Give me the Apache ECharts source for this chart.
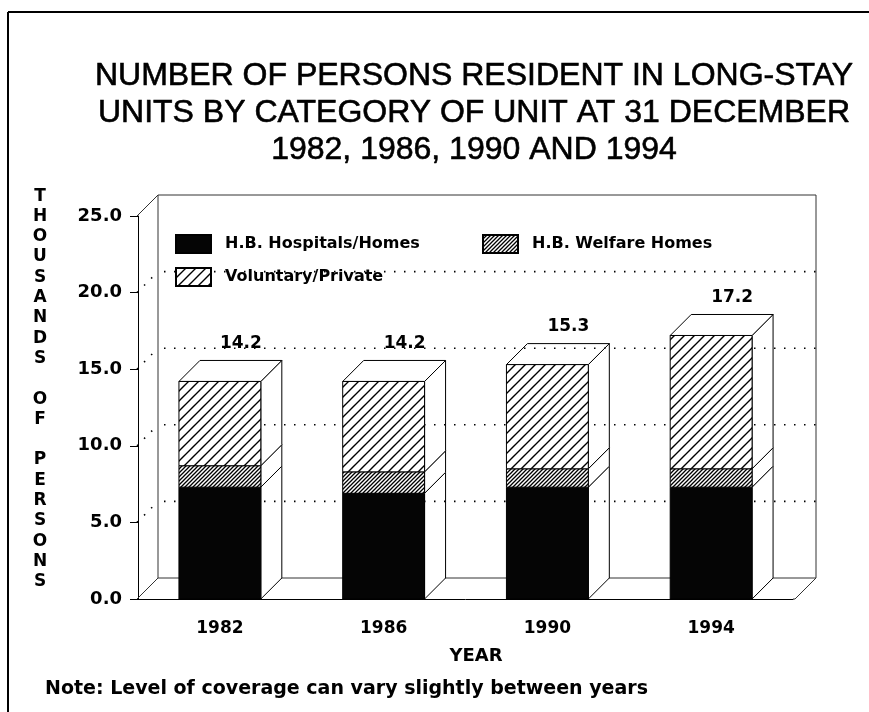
<!DOCTYPE html>
<html><head><meta charset="utf-8">
<script src="https://cdn.jsdelivr.net/npm/echarts@6/dist/echarts.min.js"></script>
<style>html,body{margin:0;padding:0;background:#fff}#c{width:869px;height:712px}</style>
</head><body><div id="c"></div>
<script>
const years = ['1982', '1986', '1990', '1994'];
const hospitals = [7.3, 6.9, 7.3, 7.3];
const welfare = [1.4, 1.4, 1.2, 1.2];
const voluntary = [5.5, 5.9, 6.8, 8.7];
const totalLabels = ['14.2', '14.2', '15.3', '17.2'];
const gridLevels = [5, 10, 15, 20];
const seriesNames = ['H.B. Hospitals/Homes', 'H.B. Welfare Homes', 'Voluntary/Private'];
const titleLines = ['NUMBER OF PERSONS RESIDENT IN LONG-STAY', 'UNITS BY CATEGORY OF UNIT AT 31 DECEMBER', '1982, 1986, 1990 AND 1994'];
const yTitle = 'THOUSANDS OF PERSONS';
const xTitle = 'YEAR';
const noteText = 'Note: Level of coverage can vary slightly between years';

const D = 21;
const BOLD = {fontFamily: 'DejaVu Sans', fontWeight: 'bold', color: '#000'};

function hatch(period, lw) {
  const c = document.createElement('canvas');
  c.width = period; c.height = period;
  const g = c.getContext('2d');
  g.fillStyle = '#fff'; g.fillRect(0, 0, period, period);
  g.strokeStyle = '#000'; g.lineWidth = lw;
  g.beginPath();
  g.moveTo(-1, period + 1); g.lineTo(period + 1, -1);
  g.moveTo(-1, 1); g.lineTo(1, -1);
  g.moveTo(period - 1, period + 1); g.lineTo(period + 1, period - 1);
  g.stroke();
  return {image: c, repeat: 'repeat'};
}
const fills = ['#050505', hatch(4, 1.3), hatch(10, 1.4)];

const stacks = [hospitals, welfare, voluntary];
function seriesData(k) {
  return years.map((y, i) => {
    let base = 0;
    for (let j = 0; j < k; j++) base += stacks[j][i];
    return [i, base, stacks[k][i]];
  });
}

function barRender(k) {
  const isTop = k === stacks.length - 1;
  return function (params, api) {
    const i = api.value(0), base = api.value(1), val = api.value(2);
    const p0 = api.coord([i, base]);
    const p1 = api.coord([i, base + val]);
    const bw = api.size([1, 0])[0] * 0.5;
    const xl = p0[0] - bw / 2, xr = p0[0] + bw / 2, yb = p0[1], yt = p1[1];
    const children = [
      {type: 'polygon', z2: 1, shape: {points: [[xr, yb], [xr + D, yb - D], [xr + D, yt - D], [xr, yt]]},
        style: {fill: '#fff', stroke: '#000', lineWidth: 1}},
      {type: 'rect', z2: 3, shape: {x: xl, y: yt, width: bw, height: yb - yt},
        style: {fill: fills[k], stroke: '#000', lineWidth: 1}}
    ];
    if (isTop) {
      children.push({type: 'polygon', z2: 1, shape: {points: [[xl, yt], [xl + D, yt - D], [xr + D, yt - D], [xr, yt]]},
        style: {fill: '#fff', stroke: '#000', lineWidth: 1}});
      children.push({type: 'text', z2: 4, x: p0[0] + D, y: yt - D - 17,
        style: {text: totalLabels[params.dataIndex], font: 'bold 17px "DejaVu Sans"', align: 'center', verticalAlign: 'middle', fill: '#000'}});
    }
    return {type: 'group', children};
  };
}

function wallRender(params, api) {
  const cs = params.coordSys;
  const x0 = cs.x - 1, yt = cs.y, yb = cs.y + cs.height, xr = cs.x + cs.width + 2;
  const st = {stroke: '#333', lineWidth: 1, fill: null};
  return {type: 'group', children: [
    {type: 'line', z2: 0, shape: {x1: x0, y1: yt, x2: x0 + D, y2: yt - D}, style: st},
    {type: 'line', z2: 0, shape: {x1: x0, y1: yb, x2: x0 + D, y2: yb - D}, style: st},
    {type: 'rect', z2: 0, shape: {x: x0 + D, y: yt - D, width: xr - x0, height: yb - yt}, style: st},
    {type: 'line', z2: 0, shape: {x1: xr, y1: yb, x2: xr + D, y2: yb - D}, style: st},
    {type: 'line', z2: 0, shape: {x1: cs.x + cs.width, y1: yb, x2: xr, y2: yb}, style: st}
  ]};
}

function gridRender(params, api) {
  const cs = params.coordSys;
  const y = api.coord([0, api.value(1)])[1];
  const x0 = cs.x - 1, xr = cs.x + cs.width + 2;
  const st = {stroke: '#000', lineWidth: 1.6, lineDash: [1.5, 8.5], fill: null};
  return {type: 'group', children: [
    {type: 'line', z2: 2, shape: {x1: x0, y1: y, x2: x0 + D, y2: y - D}, style: st},
    {type: 'line', z2: 2, shape: {x1: x0 + D + 6, y1: y - D, x2: xr + D, y2: y - D}, style: st}
  ]};
}

const chart = echarts.init(document.getElementById('c'), null, {renderer: 'canvas'});

const legendBase = {itemWidth: 35, itemHeight: 18, selectedMode: false, orient: 'horizontal',
  textStyle: Object.assign({fontSize: 16, padding: [0, 0, 0, 9]}, BOLD)};

const graphics = [];
titleLines.forEach((t, i) => graphics.push({type: 'text', x: 474, y: 76 + i * 37,
  style: {text: t, font: '32px "Liberation Sans"', fill: '#000', align: 'center', verticalAlign: 'middle',
    stroke: '#000', lineWidth: 0.6}}));
graphics.push({type: 'text', x: 40, y: 186, style: {text: yTitle.split('').join('\n'), font: 'bold 17px "DejaVu Sans"',
  fill: '#000', align: 'center', verticalAlign: 'top', lineHeight: 20.3}});
graphics.push({type: 'text', x: 476, y: 656, style: {text: xTitle, font: 'bold 18px "DejaVu Sans"', fill: '#000', align: 'center', verticalAlign: 'middle'}});
graphics.push({type: 'text', x: 45, y: 689, style: {text: noteText, font: 'bold 19px "DejaVu Sans"', fill: '#000', align: 'left', verticalAlign: 'middle'}});
graphics.push({type: 'line', shape: {x1: 8, y1: 12, x2: 869, y2: 12}, style: {stroke: '#000', lineWidth: 2}});
graphics.push({type: 'line', shape: {x1: 8, y1: 12, x2: 8, y2: 712}, style: {stroke: '#000', lineWidth: 2}});

const option = {
  animation: false,
  backgroundColor: '#fff',
  grid: {left: 138, right: 76, top: 216, bottom: 113},
  xAxis: {type: 'category', data: years,
    axisLine: {lineStyle: {color: '#000', width: 1}},
    axisTick: {alignWithLabel: true, length: 7, lineStyle: {color: '#000'}},
    axisLabel: Object.assign({fontSize: 17, margin: 21}, BOLD),
    splitLine: {show: false}},
  yAxis: {type: 'value', min: 0, max: 25, interval: 5,
    axisLine: {show: true, lineStyle: {color: '#000', width: 1}},
    axisTick: {show: true, length: 8, lineStyle: {color: '#000'}},
    axisLabel: Object.assign({fontSize: 18, margin: 16, formatter: v => v.toFixed(1)}, BOLD),
    splitLine: {show: false}},
  legend: [
    Object.assign({left: 170, top: 229, data: [{name: seriesNames[0], icon: 'rect'}]}, legendBase),
    Object.assign({left: 477, top: 229, data: [{name: seriesNames[1], icon: 'rect'}]}, legendBase),
    Object.assign({left: 170, top: 262, data: [{name: seriesNames[2], icon: 'rect'}]}, legendBase)
  ],
  graphic: graphics,
  series: [
    {type: 'custom', name: 'walls', z: 2, silent: true, renderItem: wallRender, data: [[0, 0]]},
    {type: 'custom', name: 'grid', z: 2, silent: true, renderItem: gridRender, data: gridLevels.map(v => [0, v])},
  ].concat(stacks.map((arr, k) => ({
    type: 'custom', name: seriesNames[k], z: 2, renderItem: barRender(k),
    itemStyle: {color: fills[k], borderColor: '#000', borderWidth: 1},
    encode: {x: 0, y: 2},
    data: seriesData(k)
  })))
};
chart.setOption(option);
</script></body></html>
